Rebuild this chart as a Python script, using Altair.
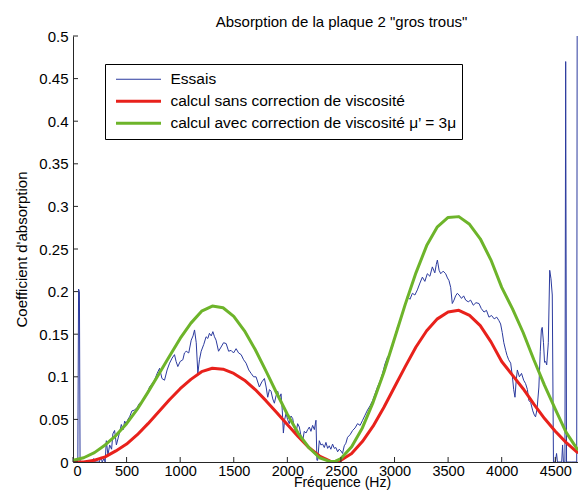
import altair as alt
import pandas as pd

# ---- data ----
series_names = ["Essais",
                "calcul sans correction de viscosité",
                "calcul avec correction de viscosité μ’ = 3μ"]
series_colors = ["#2B3A9E", "#E8211B", "#6DB42A"]
series_widths = [1, 3, 3]

essais_freq = [0, 45, 52, 60, 66, 110, 160, 195, 205, 245, 262, 272, 290, 300, 311, 326, 342, 360, 372, 388,
               405, 419, 435, 451, 468, 482, 497, 512, 528, 550, 575, 598, 621, 645, 668, 690, 714, 738, 761, 785,
               808, 830, 854, 878, 901, 925, 947, 962, 978, 1000, 1025, 1040, 1056, 1080, 1103, 1120, 1134, 1150,
               1165, 1180, 1196, 1220, 1242, 1258, 1273, 1290, 1305, 1320, 1335, 1358, 1382, 1405, 1429, 1452,
               1475, 1498, 1522, 1545, 1569, 1592, 1615, 1640, 1662, 1685, 1708, 1739, 1762, 1786, 1802, 1817,
               1833, 1848, 1864, 1879, 1895, 1910, 1926, 1941, 1953, 1963, 1975, 1988, 2002, 2018, 2034, 2050,
               2065, 2081, 2096, 2112, 2128, 2143, 2158, 2174, 2190, 2205, 2220, 2236, 2252, 2267, 2276, 2283,
               2298, 2313, 2329, 2345, 2360, 2376, 2391, 2406, 2422, 2438, 2453, 2469, 2484, 2500, 2515, 2531,
               2546, 2562, 2585, 2609, 2632, 2655, 2679, 2702, 2725, 2748, 2772, 2795, 2818, 2841, 2865, 2888,
               2911, 2934, 2958, 2981, 3004, 3027, 3051, 3074, 3097, 3120, 3144, 3167, 3190, 3213, 3237, 3260,
               3283, 3306, 3330, 3353, 3376, 3390, 3400, 3416, 3431, 3454, 3477, 3494, 3508, 3524, 3539, 3555,
               3570, 3586, 3602, 3625, 3645, 3664, 3688, 3710, 3735, 3760, 3788, 3810, 3835, 3858, 3881, 3905,
               3930, 3954, 3974, 3990, 4005, 4020, 4037, 4050, 4065, 4084, 4100, 4112, 4124, 4135, 4146, 4165,
               4185, 4205, 4223, 4240, 4254, 4270, 4290, 4305, 4316, 4330, 4347, 4360, 4370, 4378, 4390, 4400,
               4410, 4420, 4435, 4448, 4460, 4472, 4483, 4500, 4512, 4520, 4560, 4568, 4576, 4590, 4597, 4605,
               4650, 4700, 4705, 4728, 4731, 4800]
essais_abs = [0, 0, 0.203, 0.200, 0, 0, 0.0, 0.004, 0, 0, 0.006, 0, 0.004, 0.0, 0.025, 0.008, 0.02, 0.015, 0.033, 0.037,
              0.02, 0.027, 0.035, 0.044, 0.038, 0.048, 0.045, 0.05, 0.053, 0.06, 0.061, 0.064, 0.069, 0.07, 0.077, 0.08, 0.088, 0.092, 0.096, 0.104,
              0.11, 0.098, 0.096, 0.108, 0.116, 0.122, 0.126, 0.118, 0.112, 0.118, 0.12, 0.128, 0.13, 0.128, 0.143, 0.148, 0.155, 0.14,
              0.104, 0.12, 0.13, 0.138, 0.147, 0.145, 0.151, 0.148, 0.153, 0.147, 0.143, 0.13, 0.135, 0.14, 0.139, 0.13,
              0.131, 0.128, 0.133, 0.128, 0.126, 0.12, 0.116, 0.108, 0.104, 0.1, 0.1, 0.088, 0.094, 0.098, 0.088, 0.076,
              0.085, 0.083, 0.074, 0.069, 0.078, 0.083, 0.075, 0.08, 0.06, 0.034, 0.05, 0.057, 0.05, 0.045, 0.054, 0.051,
              0.04, 0.034, 0.045, 0.041, 0.03, 0.025, 0.036, 0.034, 0.038, 0.041, 0.036, 0.043, 0.038, 0.049, 0.002, 0.002,
              0.025, 0.02, 0.021, 0.017, 0.023, 0.016, 0.019, 0.015, 0.021, 0.016, 0.017, 0.012, 0.015, 0.013, 0.01, 0.019,
              0.022, 0.029, 0.032, 0.037, 0.04, 0.045, 0.043, 0.049, 0.055, 0.061, 0.066, 0.072, 0.08, 0.088, 0.095, 0.104,
              0.115, 0.123, 0.127, 0.135, 0.148, 0.158, 0.165, 0.174, 0.185, 0.194, 0.191, 0.198, 0.196, 0.202, 0.21, 0.217,
              0.212, 0.221, 0.218, 0.229, 0.222, 0.232, 0.237, 0.225, 0.221, 0.224, 0.221, 0.216, 0.213, 0.205, 0.186, 0.19,
              0.195, 0.198, 0.196, 0.192, 0.195, 0.19, 0.188, 0.19, 0.184, 0.187, 0.186, 0.18, 0.176, 0.178, 0.17, 0.172,
              0.168, 0.17, 0.166, 0.162, 0.152, 0.14, 0.131, 0.125, 0.12, 0.116, 0.1, 0.085, 0.076, 0.095, 0.108, 0.1,
              0.104, 0.096, 0.092, 0.085, 0.072, 0.07, 0.06, 0.055, 0.053, 0.062, 0.088, 0.13, 0.155, 0.158, 0.14, 0.117,
              0.118, 0.114, 0.14, 0.225, 0.215, 0.196, 0.0, 0.0, 0.01, 0.0, 0.0, 0.02, 0.0, 0.0, 0.47, 0.0,
              0.0, 0.0, 0.6, 0.6, 0.0, 0.0]

calc_freq = [0, 100, 200, 300, 400, 500, 600, 700, 800, 900, 1000, 1100, 1200, 1300, 1400, 1500, 1600, 1700,
             1800, 1900, 2000, 2100, 2200, 2300, 2400, 2450, 2500, 2600, 2700, 2800, 2900, 3000, 3100, 3200,
             3300, 3400, 3500, 3600, 3700, 3800, 3900, 4000, 4100, 4200, 4300, 4400, 4500, 4600, 4700, 4800]
abs_sans = [0, 0.000, 0.002, 0.006, 0.013, 0.021, 0.032, 0.045, 0.059, 0.073, 0.086, 0.097, 0.106, 0.110, 0.109,
            0.104, 0.096, 0.085, 0.072, 0.058, 0.044, 0.030, 0.017, 0.007, 0.001, 0.0, 0.002, 0.010, 0.024, 0.042,
            0.064, 0.088, 0.112, 0.135, 0.154, 0.168, 0.176, 0.178, 0.172, 0.160, 0.141, 0.118, 0.102, 0.086,
            0.068, 0.051, 0.036, 0.023, 0.012, 0.006]
abs_avec = [0.002, 0.005, 0.011, 0.020, 0.031, 0.045, 0.062, 0.082, 0.103, 0.124, 0.145, 0.163, 0.177, 0.183, 0.181,
            0.171, 0.154, 0.132, 0.107, 0.081, 0.056, 0.034, 0.017, 0.005, 0.0005, 0.001, 0.004, 0.018, 0.040, 0.070,
            0.105, 0.145, 0.185, 0.222, 0.254, 0.276, 0.287, 0.288, 0.279, 0.262, 0.237, 0.205, 0.180, 0.152,
            0.120, 0.090, 0.062, 0.035, 0.016, 0.008]

x_ticks = [0, 500, 1000, 1500, 2000, 2500, 3000, 3500, 4000, 4500]
y_ticks = [0, 0.05, 0.1, 0.15, 0.2, 0.25, 0.3, 0.35, 0.4, 0.45, 0.5]

# ---- tables ----
rows = []
for f, v in zip(essais_freq, essais_abs):
    rows.append({"f": f, "a": v, "series": series_names[0], "order": 0})
for f, v in zip(calc_freq, abs_sans):
    rows.append({"f": f, "a": v, "series": series_names[1], "order": 1})
for f, v in zip(calc_freq, abs_avec):
    rows.append({"f": f, "a": v, "series": series_names[2], "order": 2})
df = pd.DataFrame(rows)
xt = pd.DataFrame({"f": x_ticks})
yt = pd.DataFrame({"a": y_ticks})

FONT = "Liberation Sans"
W, H = 505, 426

xscale = alt.Scale(domain=[0, 4712], nice=False, zero=False)
yscale = alt.Scale(domain=[0, 0.5], nice=False)
xaxis = alt.Axis(values=x_ticks, format="d", title="Fréquence (Hz)",
                 titleX=269, titleY=24, titleBaseline="alphabetic", titleFontSize=14,
                 labelFontSize=14.5, labelPadding=2.5,
                 titleAnchor="start", titleAlign="center")
yaxis = alt.Axis(values=y_ticks, format="~g", title="Coefficient d'absorption", titlePadding=9)

legend = alt.Legend(title=None, labelExpr="datum.label + '\u00a0\u00a0\u00a0\u00a0'")

lines = alt.Chart(df).mark_line(clip=True, strokeJoin="round").encode(
    x=alt.X("f:Q", scale=xscale, axis=xaxis),
    y=alt.Y("a:Q", scale=yscale, axis=yaxis),
    color=alt.Color("series:N", scale=alt.Scale(domain=series_names, range=series_colors),
                    legend=legend),
    strokeWidth=alt.StrokeWidth("series:N",
                                scale=alt.Scale(type="ordinal", domain=series_names, range=series_widths),
                                legend=legend),
    detail="order:O",
    order="order:O",
)

xtick_marks = alt.Chart(xt).mark_rule(color="#262626", strokeWidth=1).encode(
    x=alt.X("f:Q", scale=xscale, axis=xaxis),
    y=alt.value(H), y2=alt.value(H - 5),
)
ytick_marks = alt.Chart(yt).mark_rule(color="#262626", strokeWidth=1).encode(
    y=alt.Y("a:Q", scale=yscale, axis=yaxis),
    x=alt.value(0), x2=alt.value(5),
)

chart = alt.layer(lines, xtick_marks, ytick_marks).properties(
    width=W, height=H,
    title=alt.TitleParams("Absorption de la plaque 2 \"gros trous\"", font=FONT, fontSize=15,
                          fontWeight="normal", color="black", anchor="middle", dx=16, dy=17,
                          baseline="alphabetic", offset=4),
    padding={"left": 65, "top": 28, "right": 0, "bottom": 29},
    autosize=alt.AutoSizeParams(type="none"),
).configure_view(stroke=None).configure_axis(
    ticks=False, tickSize=0, grid=False, domainColor="#262626", domainWidth=1,
    labelFont=FONT, labelFontSize=15, labelColor="black",
    titleFont=FONT, titleFontSize=15, titleColor="black", titleFontWeight="normal",
).configure_axisY(labelPadding=5).configure_legend(
    orient="none", legendX=32, legendY=28, symbolType="stroke", symbolSize=2025,
    symbolOffset=5, labelOffset=8, clipHeight=21.5, rowPadding=0, padding=4.5,
    strokeColor="black", fillColor="white", cornerRadius=0,
    labelFont=FONT, labelFontSize=15.5, labelColor="black", labelLimit=0,
)

chart.save("out.html", embed_options={"renderer": "svg", "actions": False})
